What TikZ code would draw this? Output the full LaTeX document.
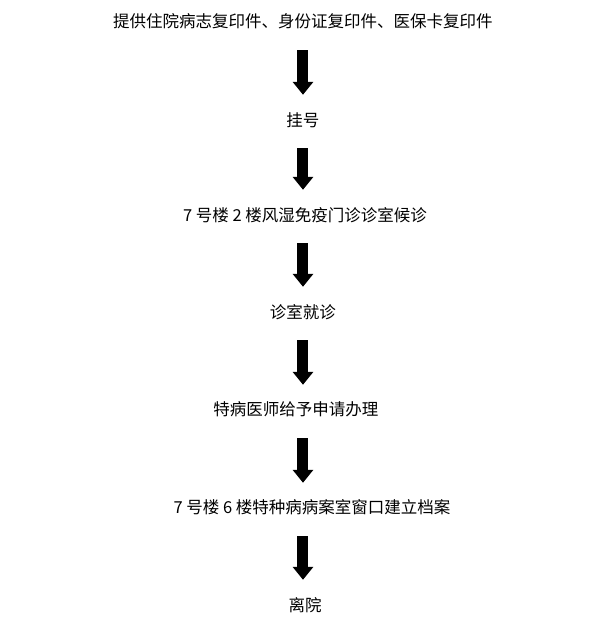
\documentclass[tikz,border=0pt]{standalone}
\usepackage{fontspec}
\newfontfamily\cjk{Noto Sans CJK SC}
\usetikzlibrary{arrows.meta}
\tikzset{
  steptext/.style={inner sep=0pt, text height=14pt, text depth=2pt, font=\cjk\fontsize{16.5}{19}\selectfont},
  flowarrow/.style={line width=11pt, -{Triangle[width=20pt,length=13pt]}, shorten <=20pt, shorten >=17pt}
}
\begin{document}
\begin{tikzpicture}
\useasboundingbox (0,0) rectangle (21.088,21.861);
\coordinate (axis) at (10.649,0);
\node[steptext] (s1) at (10.649,21.088) {提供住院病志复印件、身份证复印件、医保卡复印件};
\node[steptext] (s2) at (10.649,17.643) {挂号};
\node[steptext] (s3) at (10.720,14.304) {7 号楼 2 楼风湿免疫门诊诊室候诊};
\node[steptext] (s4) at (10.649,10.895) {诊室就诊};
\node[steptext] (s5) at (10.403,7.451) {特病医师给予申请办理};
\node[steptext] (s6) at (10.966,4.007) {7 号楼 6 楼特种病病案室窗口建立档案};
\node[steptext] (s7) at (10.720,0.597) {离院};
\draw[flowarrow] (s1.south -| axis) -- (s2.north -| axis);
\draw[flowarrow] (s2.south -| axis) -- (s3.north -| axis);
\draw[flowarrow] (s3.south -| axis) -- (s4.north -| axis);
\draw[flowarrow] (s4.south -| axis) -- (s5.north -| axis);
\draw[flowarrow] (s5.south -| axis) -- (s6.north -| axis);
\draw[flowarrow] (s6.south -| axis) -- (s7.north -| axis);
\end{tikzpicture}
\end{document}
